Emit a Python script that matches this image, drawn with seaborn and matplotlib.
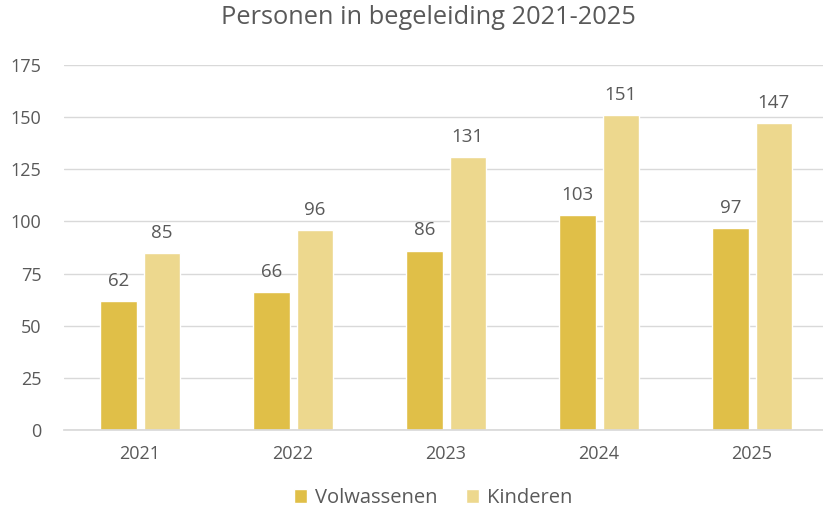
import pandas as pd
import matplotlib.pyplot as plt
import seaborn as sns

years = ["2021", "2022", "2023", "2024", "2025"]
volwassenen = [62, 66, 86, 103, 97]
kinderen = [85, 96, 131, 151, 147]
series = ["Volwassenen", "Kinderen"]
yticks = [0, 25, 50, 75, 100, 125, 150, 175]

sns.set_theme(style="white")
plt.rcParams["font.family"] = ["Open Sans", "DejaVu Sans"]
TXT = "#595959"

df = pd.DataFrame({
    "jaar": years * 2,
    "groep": [series[0]] * len(years) + [series[1]] * len(years),
    "aantal": volwassenen + kinderen,
})

fig = plt.figure(figsize=(8.23, 5.11), dpi=100)
ax = fig.add_axes([0.0772, 0.1585, 0.9296, 0.7145])
sns.barplot(data=df, x="jaar", y="aantal", hue="groep", hue_order=series,
            palette=["#E0BF48", "#EDD88E"], width=0.566, gap=0.16,
            saturation=1, ax=ax)

for cont in ax.containers:
    ax.bar_label(cont, padding=8, fontsize=13.5, color=TXT)

ax.set_ylim(0, 175)
ax.set_xlim(-0.5, 4.5)
ax.set_yticks(yticks)
ax.yaxis.grid(True, color="#D9D9D9", lw=1)
ax.set_axisbelow(True)
for s in ["top", "right", "left"]:
    ax.spines[s].set_visible(False)
ax.spines["bottom"].set_color("#D9D9D9")
ax.tick_params(axis="both", length=0, labelsize=13, colors=TXT)
ax.tick_params(axis="y", pad=16)
ax.tick_params(axis="x", pad=11)
ax.set_xlabel(""); ax.set_ylabel("")

fig.suptitle("Personen in begeleiding 2021-2025", x=0.52, y=0.99, fontsize=18.3, color=TXT)
ax.legend(loc="upper center", bbox_to_anchor=(0.483, -0.11), ncol=2, frameon=False,
          fontsize=14.5, labelcolor=TXT, handlelength=0.65, handleheight=0.65,
          columnspacing=1.4, handletextpad=0.4)

fig.savefig("out.png", dpi=100)
